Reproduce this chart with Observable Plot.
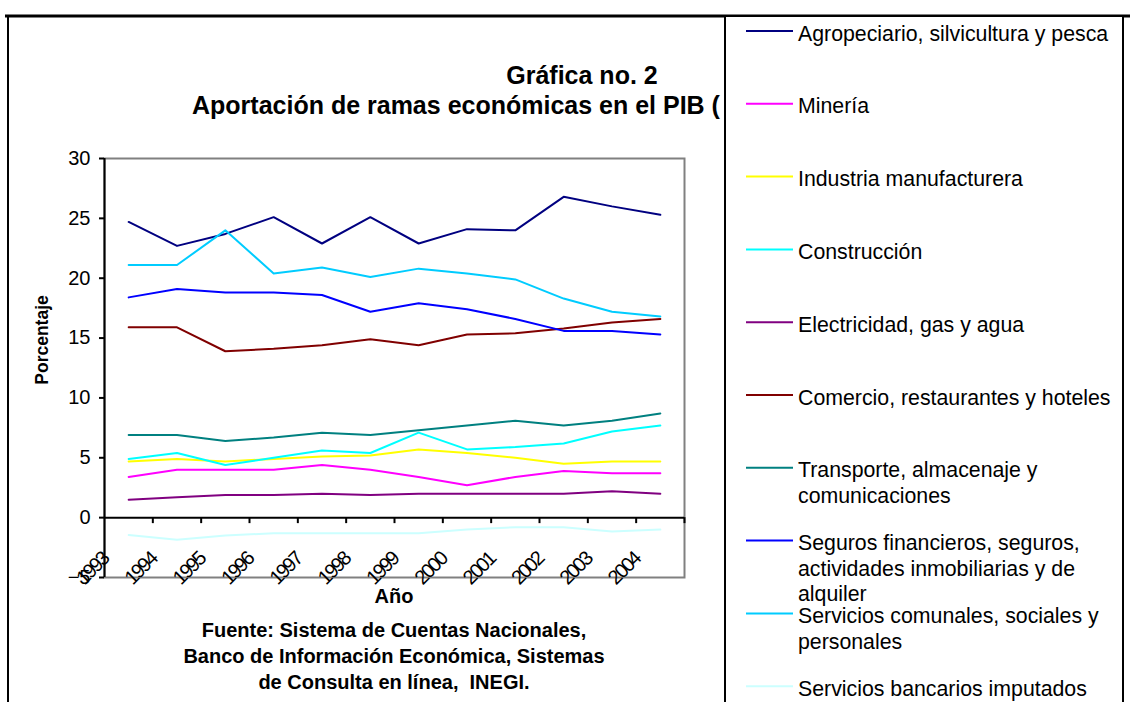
<!DOCTYPE html>
<html>
<head>
<meta charset="utf-8">
<script src="https://cdn.jsdelivr.net/npm/d3@7"></script>
<script src="https://cdn.jsdelivr.net/npm/@observablehq/plot@0.6"></script>
<style>
  body { margin: 0; background: #fff; }
  #chart { width: 1130px; height: 702px; overflow: hidden; }
</style>
</head>
<body>
<div id="chart"></div>
<script>
// ---- Data ----
const years = ["1993","1994","1995","1996","1997","1998","1999","2000","2001","2002","2003","2004"];

const seriesNames = [
  "Agropeciario, silvicultura y pesca",
  "Minería",
  "Industria manufacturera",
  "Construcción",
  "Electricidad, gas y agua",
  "Comercio, restaurantes y hoteles",
  "Transporte, almacenaje y comunicaciones",
  "Seguros financieros, seguros, actividades inmobiliarias y de alquiler",
  "Servicios comunales, sociales y personales",
  "Servicios bancarios imputados"
];

const seriesColors = ["#000080","#FF00FF","#FFFF00","#00FFFF","#800080","#800000","#008080","#0000FF","#00CCFF","#CCFFFF"];

const agropecuario  = [24.7, 22.7, 23.7, 25.1, 22.9, 25.1, 22.9, 24.1, 24.0, 26.8, 26.0, 25.3];
const mineria       = [3.4, 4.0, 4.0, 4.0, 4.4, 4.0, 3.4, 2.7, 3.4, 3.9, 3.7, 3.7];
const industria     = [4.7, 4.9, 4.7, 4.9, 5.1, 5.2, 5.7, 5.4, 5.0, 4.5, 4.7, 4.7];
const construccion  = [4.9, 5.4, 4.4, 5.0, 5.6, 5.4, 7.1, 5.7, 5.9, 6.2, 7.2, 7.7];
const electricidad  = [1.5, 1.7, 1.9, 1.9, 2.0, 1.9, 2.0, 2.0, 2.0, 2.0, 2.2, 2.0];
const comercio      = [15.9, 15.9, 13.9, 14.1, 14.4, 14.9, 14.4, 15.3, 15.4, 15.8, 16.3, 16.6];
const transporte    = [6.9, 6.9, 6.4, 6.7, 7.1, 6.9, 7.3, 7.7, 8.1, 7.7, 8.1, 8.7];
const seguros       = [18.4, 19.1, 18.8, 18.8, 18.6, 17.2, 17.9, 17.4, 16.6, 15.6, 15.6, 15.3];
const comunales     = [21.1, 21.1, 24.0, 20.4, 20.9, 20.1, 20.8, 20.4, 19.9, 18.3, 17.2, 16.8];
const bancarios     = [-1.45, -1.85, -1.5, -1.3, -1.3, -1.3, -1.3, -1.0, -0.8, -0.8, -1.15, -1.0];

const yTicks = [-5, 0, 5, 10, 15, 20, 25, 30];

const legendLines = [
  ["Agropeciario, silvicultura y pesca"],
  ["Minería"],
  ["Industria manufacturera"],
  ["Construcción"],
  ["Electricidad, gas y agua"],
  ["Comercio, restaurantes y hoteles"],
  ["Transporte, almacenaje y", "comunicaciones"],
  ["Seguros financieros, seguros,", "actividades inmobiliarias y de", "alquiler"],
  ["Servicios comunales, sociales y", "personales"],
  ["Servicios bancarios imputados"]
];

const titleLine1 = "Gráfica no. 2";
const titleLine2 = "Aportación de ramas económicas en el PIB (";
const xTitle = "Año";
const yTitle = "Porcentaje";
const captionLines = [
  "Fuente: Sistema de Cuentas Nacionales,",
  "Banco de Información Económica, Sistemas",
  "de Consulta en línea,  INEGI."
];

// ---- Build table ----
const seriesValues = [agropecuario, mineria, industria, construccion, electricidad, comercio, transporte, seguros, comunales, bancarios];
const table = seriesNames.flatMap((s, k) => seriesValues[k].map((v, i) => ({series: s, i, year: years[i], value: v})));

const FONT = "'Liberation Sans', Arial, Helvetica, sans-serif";

const plot = Plot.plot({
  width: 1130,
  height: 702,
  marginLeft: 104,
  marginRight: 446,
  marginTop: 158,
  marginBottom: 125,
  style: {fontFamily: FONT, fontSize: "20px", background: "white", color: "black", overflow: "visible"},
  x: {type: "linear", domain: [-0.5, years.length - 0.5], axis: null},
  y: {domain: [-5, 30], axis: null},
  color: {domain: seriesNames, range: seriesColors},
  marks: [
    Plot.frame({stroke: "#808080", strokeWidth: 2}),
    Plot.ruleY([0], {stroke: "black", strokeWidth: 2}),
    Plot.ruleX(years.map((d, i) => i + 0.5), {y1: 0, y2: -0.5, stroke: "black", strokeWidth: 2}),
    Plot.line(table, {x: "i", y: "value", z: "series", stroke: "series", strokeWidth: 2}),
    Plot.ruleX([-0.5], {stroke: "black", strokeWidth: 2}),
    Plot.axisY({ticks: yTicks, tickSize: 5, tickPadding: 9, fontSize: 20, strokeWidth: 2, label: null}),
    Plot.text(years, {
      x: (d, i) => i, frameAnchor: "bottom", text: d => d,
      rotate: -45, textAnchor: "end", dx: -19, dy: -17, fontSize: 20
    })
  ]
});

document.getElementById("chart").appendChild(plot);

const svg = d3.select(plot);
svg.selectAll('g[aria-label="text"] text').style("letter-spacing", "-2.2px");

// Outer frame
svg.append("line").attr("x1", 5).attr("x2", 1130).attr("y1", 16).attr("y2", 16)
  .attr("stroke", "black").attr("stroke-width", 3);
svg.append("line").attr("x1", 8).attr("x2", 8).attr("y1", 16).attr("y2", 702)
  .attr("stroke", "black").attr("stroke-width", 2);

// Titles
svg.append("text").text(titleLine1)
  .attr("x", 582).attr("y", 84).attr("text-anchor", "middle")
  .attr("font-weight", "bold").attr("font-size", 25).attr("font-family", FONT);
svg.append("text").text(titleLine2)
  .attr("x", 192).attr("y", 114).attr("text-anchor", "start")
  .attr("font-weight", "bold").attr("font-size", 25).attr("font-family", FONT);

// Axis titles
svg.append("text").text(xTitle)
  .attr("x", 394).attr("y", 603).attr("text-anchor", "middle")
  .attr("font-weight", "bold").attr("font-size", 20).attr("font-family", FONT);
svg.append("text").text(yTitle)
  .attr("transform", "translate(48,340) rotate(-90)").attr("text-anchor", "middle")
  .attr("font-weight", "bold").attr("font-size", 17.5).attr("font-family", FONT);

// Caption
captionLines.forEach((t, k) => {
  svg.append("text").text(t)
    .attr("x", 394).attr("y", 637 + k * 26).attr("text-anchor", "middle")
    .attr("font-weight", "bold").attr("font-size", 20).attr("font-family", FONT)
    .style("white-space", "pre");
});

// Legend
const lg = svg.append("g").attr("text-anchor", "start");
lg.append("rect").attr("x", 725).attr("y", 16).attr("width", 398).attr("height", 700)
  .attr("fill", "white").attr("stroke", "black").attr("stroke-width", 2);
legendLines.forEach((lines, k) => {
  const y0 = 31 + k * 72.8;
  lg.append("line").attr("x1", 746).attr("x2", 793).attr("y1", y0).attr("y2", y0)
    .attr("stroke", seriesColors[k]).attr("stroke-width", 2);
  lines.forEach((t, j) => {
    lg.append("text").text(t)
      .attr("x", 798).attr("y", y0 + 2 + j * 25.5).attr("dy", "0.36em")
      .attr("text-anchor", "start")
      .attr("font-size", 21.3).attr("font-family", FONT).attr("fill", "black");
  });
});
</script>
</body>
</html>
